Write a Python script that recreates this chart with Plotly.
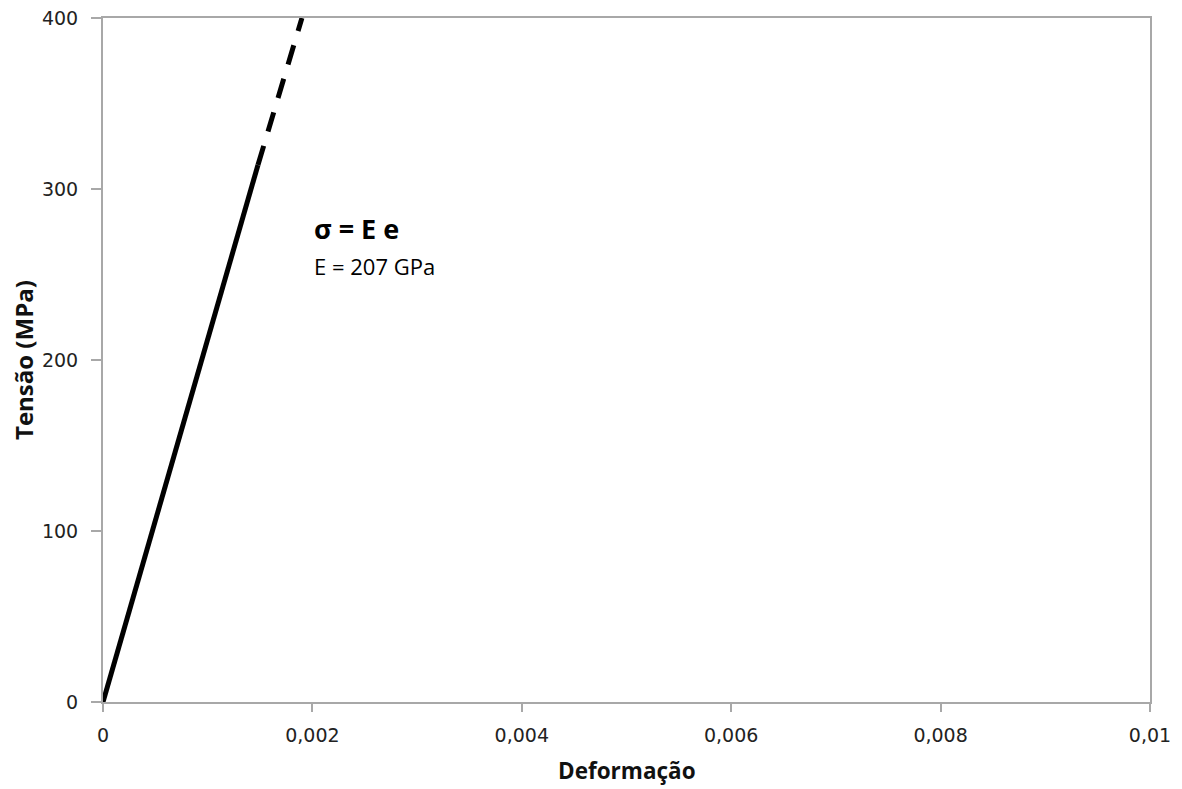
import plotly.graph_objects as go

# Data
strain_solid = [0.0, 0.00148]
stress_solid = [0.0, 314.0]
strain_dashed = [0.00148, 0.0019]
stress_dashed = [314.0, 400.0]

x_tickvals = [0, 0.002, 0.004, 0.006, 0.008, 0.01]
x_ticktext = ["0", "0,002", "0,004", "0,006", "0,008", "0,01"]
y_tickvals = [0, 100, 200, 300, 400]
y_ticktext = ["0", "100", "200", "300", "400"]

axis_color = "#a8a8a8"
tick_font = dict(family="DejaVu Sans", size=19, color="#222222")

fig = go.Figure()
fig.add_trace(go.Scatter(x=strain_solid, y=stress_solid, mode="lines",
                         line=dict(color="black", width=5), showlegend=False))
fig.add_trace(go.Scatter(x=strain_dashed, y=stress_dashed, mode="lines",
                         line=dict(color="black", width=5, dash="20px,15px"),
                         showlegend=False))

fig.update_layout(
    width=1182, height=789,
    margin=dict(l=103, r=32, t=18, b=87, autoexpand=False),
    paper_bgcolor="white", plot_bgcolor="white",
    xaxis=dict(range=[0, 0.01], tickvals=x_tickvals, ticktext=x_ticktext,
               showgrid=False, zeroline=False, showline=True, mirror=True,
               linecolor=axis_color, linewidth=2, ticks="outside", ticklen=8,
               tickwidth=2, tickcolor=axis_color, tickfont=tick_font,
               ticklabelstandoff=7, automargin=False),
    yaxis=dict(range=[0, 400], tickvals=y_tickvals, ticktext=y_ticktext,
               showgrid=False, zeroline=False, showline=True, mirror=True,
               linecolor=axis_color, linewidth=2, ticks="outside", ticklen=10,
               tickwidth=2, tickcolor=axis_color, tickfont=tick_font,
               ticklabelstandoff=9, automargin=False),
    annotations=[
        dict(text="<b>Deformação</b>", xref="paper", yref="paper", x=0.5, y=0,
             xanchor="center", yanchor="middle", yshift=-68, showarrow=False,
             font=dict(family="Open Sans", size=22.5, color="#111111")),
        dict(text="<b>Tensão (MPa)</b>", xref="paper", yref="paper", x=0, y=0.5,
             xanchor="center", yanchor="middle", xshift=-80, textangle=-90,
             showarrow=False,
             font=dict(family="Open Sans", size=24, color="#111111")),
        dict(text="<b>σ = E e</b>", xref="x", yref="y", x=0.002, y=277,
             xanchor="left", yanchor="middle", showarrow=False,
             font=dict(family="Open Sans", size=27, color="black")),
        dict(text="E = 207 GPa", xref="x", yref="y", x=0.002, y=255,
             xanchor="left", yanchor="middle", showarrow=False,
             font=dict(family="Open Sans", size=22, color="black")),
    ],
)

fig.write_html("out.html")
